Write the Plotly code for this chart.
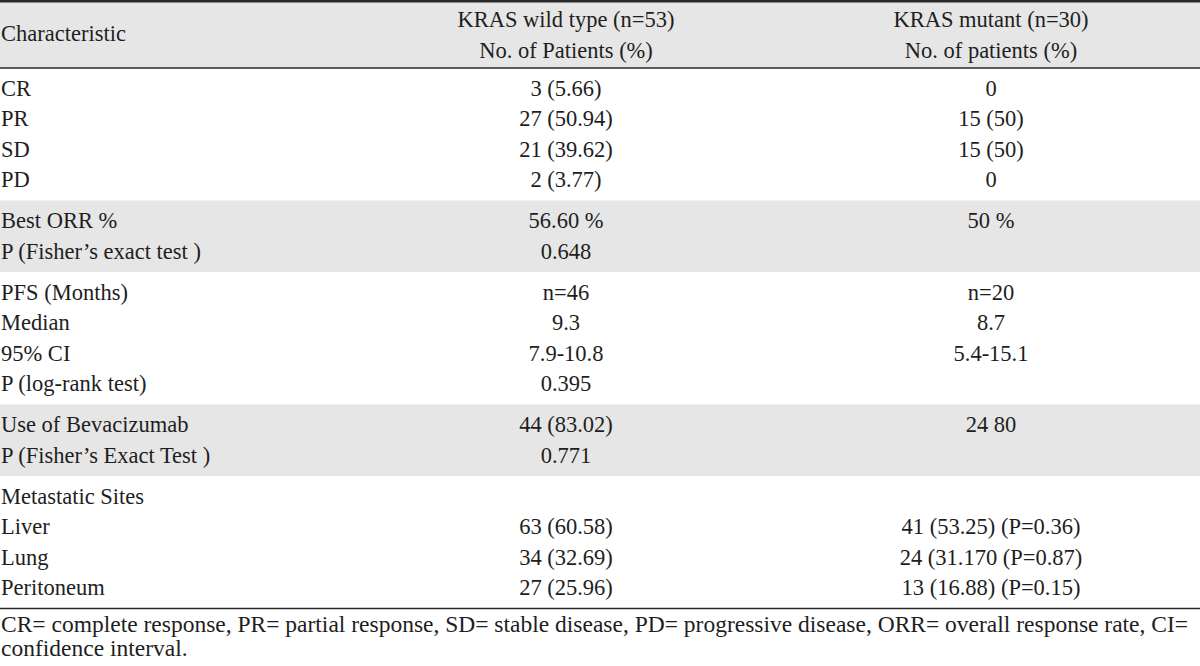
import plotly.graph_objects as go

# ---- data ----
header_char = "Characteristic"
header_wild = ["KRAS wild type (n=53)", "No. of Patients (%)"]
header_mut = ["KRAS mutant (n=30)", "No. of patients (%)"]

characteristics = ["CR", "PR", "SD", "PD",
                   "Best ORR %", "P (Fisher\u2019s exact test )",
                   "PFS (Months)", "Median", "95% CI", "P (log-rank test)",
                   "Use of Bevacizumab", "P (Fisher\u2019s Exact Test )",
                   "Metastatic Sites", "Liver", "Lung", "Peritoneum"]
wild_type = ["3 (5.66)", "27 (50.94)", "21 (39.62)", "2 (3.77)",
             "56.60 %", "0.648",
             "n=46", "9.3", "7.9-10.8", "0.395",
             "44 (83.02)", "0.771",
             "", "63 (60.58)", "34 (32.69)", "27 (25.96)"]
mutant = ["0", "15 (50)", "15 (50)", "0",
          "50 %", "",
          "n=20", "8.7", "5.4-15.1", "",
          "24 80", "",
          "", "41 (53.25) (P=0.36)", "24 (31.170 (P=0.87)", "13 (16.88) (P=0.15)"]
groups = [0, 0, 0, 0, 1, 1, 2, 2, 2, 2, 3, 3, 4, 4, 4, 4]
shaded_groups = [1, 3]
footnote = ["CR= complete response, PR= partial response, SD= stable disease, PD= progressive disease, ORR= overall response rate, CI=",
            "confidence interval."]

# ---- layout geometry ----
W, H = 1200, 666
FONT = "Liberation Serif"
FS = 22.5
FS_NOTE = 23.5
TXT = "#1e1e1e"
GRAY = "#e6e6e6"
RULE = "#2a2a2a"
X_LEFT = 1
X_WILD = 566
X_MUT = 991
ROW0 = 90
PITCH = 30.5
GROUP_GAP = 10.5
PAD_TOP = 22
PAD_BOT = 19
HEADER_BOTTOM = 68

row_y = [ROW0 + PITCH * i + GROUP_GAP * g for i, g in enumerate(groups)]

fig = go.Figure()

shapes = []
# header band
shapes.append(dict(type="rect", xref="x", yref="y", x0=0, x1=W, y0=0, y1=HEADER_BOTTOM,
                   fillcolor=GRAY, line=dict(width=0), layer="below"))
# shaded groups
for g in shaded_groups:
    ys = [y for y, gg in zip(row_y, groups) if gg == g]
    shapes.append(dict(type="rect", xref="x", yref="y", x0=0, x1=W,
                       y0=min(ys) - PAD_TOP, y1=max(ys) + PAD_BOT,
                       fillcolor=GRAY, line=dict(width=0), layer="below"))
# rules
bottom_rule = row_y[-1] + PAD_BOT
for y, w in [(1.2, 2.4), (HEADER_BOTTOM, 1.6), (bottom_rule, 1.6)]:
    shapes.append(dict(type="line", xref="x", yref="y", x0=0, x1=W, y0=y, y1=y,
                       line=dict(color=RULE, width=w)))

tf = dict(family=FONT, size=FS, color=TXT)
tf_note = dict(family=FONT, size=FS_NOTE, color=TXT)

# header texts
fig.add_trace(go.Scatter(x=[X_LEFT], y=[35], text=[header_char], mode="text",
                         textposition="middle right", textfont=tf,
                         hoverinfo="skip", showlegend=False))
fig.add_trace(go.Scatter(x=[X_WILD, X_WILD], y=[21, 52], text=header_wild, mode="text",
                         textposition="middle center", textfont=tf,
                         hoverinfo="skip", showlegend=False))
fig.add_trace(go.Scatter(x=[X_MUT, X_MUT], y=[21, 52], text=header_mut, mode="text",
                         textposition="middle center", textfont=tf,
                         hoverinfo="skip", showlegend=False))

# body
fig.add_trace(go.Scatter(x=[X_LEFT] * len(characteristics), y=row_y, text=characteristics,
                         mode="text", textposition="middle right", textfont=tf,
                         hoverinfo="skip", showlegend=False))
fig.add_trace(go.Scatter(x=[X_WILD] * len(wild_type), y=row_y, text=wild_type,
                         mode="text", textposition="middle center", textfont=tf,
                         hoverinfo="skip", showlegend=False))
fig.add_trace(go.Scatter(x=[X_MUT] * len(mutant), y=row_y, text=mutant,
                         mode="text", textposition="middle center", textfont=tf,
                         hoverinfo="skip", showlegend=False))

# footnote
fig.add_trace(go.Scatter(x=[X_LEFT, X_LEFT], y=[bottom_rule + 18, bottom_rule + 42], text=footnote,
                         mode="text", textposition="middle right", textfont=tf_note,
                         hoverinfo="skip", showlegend=False))

fig.update_layout(
    width=W, height=H,
    margin=dict(l=0, r=0, t=0, b=0),
    paper_bgcolor="white", plot_bgcolor="white",
    shapes=shapes,
    xaxis=dict(range=[0, W], visible=False, fixedrange=True),
    yaxis=dict(range=[H, 0], visible=False, fixedrange=True),
)

fig.write_html("out.html", config={"displayModeBar": False},
               post_script="document.body.style.margin='0';document.body.style.padding='0';document.body.style.overflow='hidden';")
